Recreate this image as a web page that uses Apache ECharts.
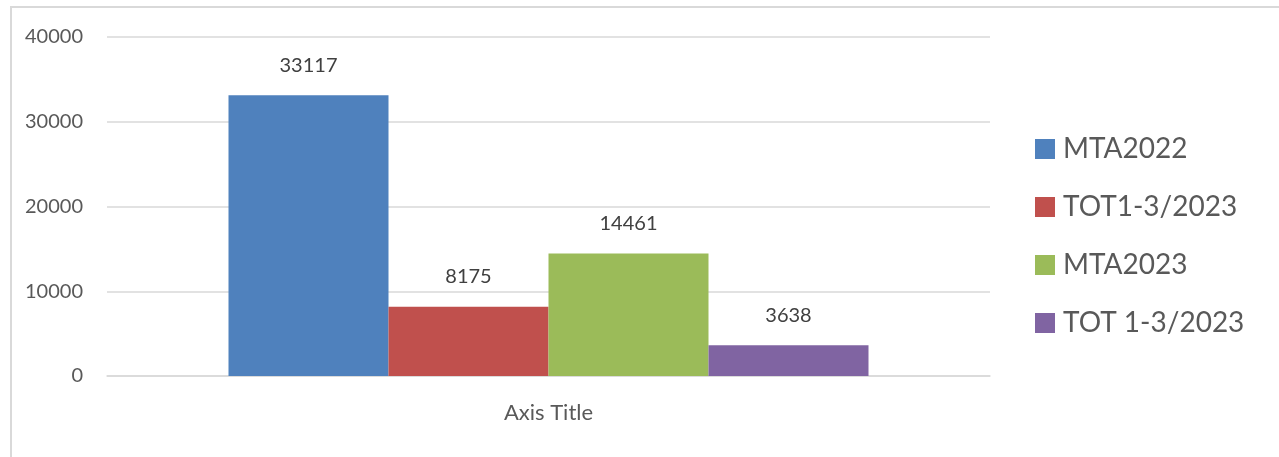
<!DOCTYPE html>
<html>
<head>
<meta charset="utf-8">
<script src="https://cdn.jsdelivr.net/npm/echarts@6/dist/echarts.min.js"></script>
<style>
  html, body { margin: 0; padding: 0; background: #fff; }
  #frame { position: absolute; left: 10px; top: 6px; width: 1269px; height: 451px;
           border-left: 2px solid #d9d9d9; border-top: 2px solid #d9d9d9; box-sizing: border-box; }
  #main { position: absolute; left: 0; top: 0; width: 1279px; height: 457px; }
</style>
</head>
<body>
<div id="frame"></div>
<div id="main"></div>
<script>
// 数据
var categories = [''];
var seriesNames = ['MTA2022', 'TOT1-3/2023', 'MTA2023', 'TOT 1-3/2023'];
var seriesValues = [[33117], [8175], [14461], [3638]];
var colors = ['#4F81BD', '#C0504D', '#9BBB59', '#8064A2'];
var yTicks = { min: 0, max: 40000, interval: 10000 };

var fontFam = 'Lato, "Open Sans", sans-serif';

var chart = echarts.init(document.getElementById('main'));

var series = seriesNames.map(function (name, i) {
  return {
    name: name,
    type: 'bar',
    data: seriesValues[i],
    barWidth: 160,
    barGap: '0%',
    itemStyle: { color: colors[i] },
    label: {
      show: true,
      position: 'top',
      distance: 20,
      color: '#404040',
      fontSize: 20,
      fontFamily: fontFam
    }
  };
});

chart.setOption({
  animation: false,
  color: colors,
  grid: { left: 107, right: 289, top: 37, bottom: 81 },
  legend: {
    orient: 'vertical',
    left: 1030,
    top: 130,
    itemWidth: 20,
    itemHeight: 20,
    itemGap: 30,
    icon: 'rect',
    data: seriesNames,
    textStyle: {
      fontSize: 28,
      color: '#595959',
      fontFamily: fontFam,
      padding: [0, 0, 0, 3]
    }
  },
  xAxis: {
    type: 'category',
    data: categories,
    name: 'Axis Title',
    nameLocation: 'middle',
    nameGap: 26,
    nameTextStyle: { fontSize: 22, color: '#595959', fontFamily: fontFam },
    axisLine: { lineStyle: { color: '#d9d9d9', width: 1.5 } },
    axisTick: { show: false },
    axisLabel: { show: false }
  },
  yAxis: {
    type: 'value',
    min: yTicks.min,
    max: yTicks.max,
    interval: yTicks.interval,
    axisLine: { show: false },
    axisTick: { show: false },
    axisLabel: {
      fontSize: 20, color: '#595959', margin: 24, fontFamily: fontFam,
      formatter: function (v) { return String(v); }
    },
    splitLine: { lineStyle: { color: '#d9d9d9', width: 1.5 } }
  },
  series: series
});
</script>
</body>
</html>
